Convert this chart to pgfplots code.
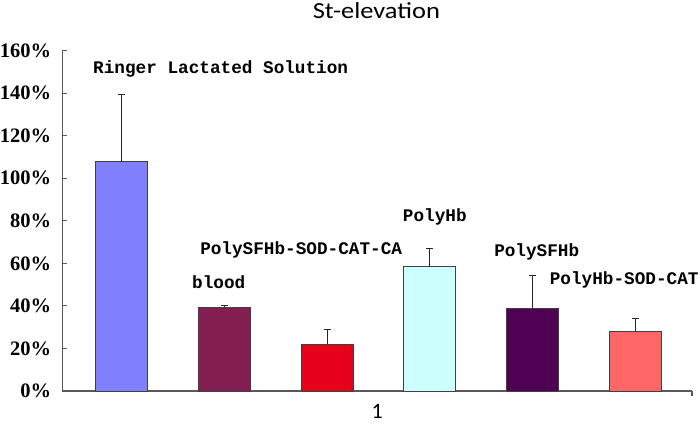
\documentclass[border=0pt]{standalone}
\usepackage{fontspec}
\usepackage{pgfplots}
\pgfplotsset{compat=1.18}
\newfontfamily\labfont{Liberation Mono}
\newfontfamily\tickfont{Liberation Serif}
\newfontfamily\titlefont[FakeStretch=1.15]{Carlito}
\newfontfamily\onefont{Carlito}
\definecolor{cRinger}{HTML}{8080FF}
\definecolor{cBlood}{HTML}{821F50}
\definecolor{cRed}{HTML}{E6001C}
\definecolor{cPolyHb}{HTML}{CCFFFF}
\definecolor{cPolySF}{HTML}{500050}
\definecolor{cSalmon}{HTML}{FF6666}
\begin{document}
\begin{tikzpicture}[x=1pt,y=1pt]
\useasboundingbox (0,0) rectangle (700,423);
\begin{axis}[
  at={(62.3pt,32pt)}, anchor=south west,
  scale only axis, width=629.7pt, height=340.3pt,
  xmin=-0.578, xmax=5.552, ymin=0, ymax=160,
  axis lines=left, axis line style={draw=black!65, line width=1.1pt, -},
  tick align=inside, major tick length=4.5pt,
  tick style={draw=black!65, line width=1.1pt},
  ytick={0,20,...,160},
  yticklabel={\tickfont\bfseries\pgfmathprintnumber[assume math mode=true]{\tick}\%},
  yticklabel style={font=\fontsize{20.5}{20.5}\selectfont, anchor=east, inner sep=0pt, xshift=-11pt},
  xtick={5.552}, xticklabels={},
  extra x ticks={2.487}, extra x tick labels={1},
  extra x tick style={major tick length=0pt, xticklabel style={font=\onefont\fontsize{22}{22}\selectfont, inner sep=0pt, anchor=center, yshift=-20pt}},
  ybar, bar width=0.506, bar shift=0pt,
  error bars/y dir=plus, error bars/y explicit,
  error bars/error bar style={draw=black!85, line width=0.9pt},
  error bars/error mark options={rotate=90, mark size=3.5pt, line width=0.9pt, draw=black!85},
  clip=false,
]
\addplot[fill=cRinger, draw=black!75, line width=0.9pt] coordinates {(0,107.8) +- (0,31.4)};
\addplot[fill=cBlood, draw=black!75, line width=0.9pt] coordinates {(1,39.5) +- (0,0.9)};
\addplot[fill=cRed, draw=black!75, line width=0.9pt] coordinates {(2,22.1) +- (0,6.9)};
\addplot[fill=cPolyHb, draw=black!75, line width=0.9pt] coordinates {(3,58.4) +- (0,8.5)};
\addplot[fill=cPolySF, draw=black!75, line width=0.9pt] coordinates {(4,38.9) +- (0,15.2)};
\addplot[fill=cSalmon, draw=black!75, line width=0.9pt] coordinates {(5,28.2) +- (0,5.8)};
\begin{scope}[every node/.style={anchor=base west, inner sep=0pt, font=\labfont\bfseries\fontsize{17.7}{17.7}\selectfont}]
\node at (axis cs:-0.279,149.4) {Ringer Lactated Solution};
\node at (axis cs:0.685,48.3) {blood};
\node at (axis cs:0.763,64.4) {PolySFHb-SOD-CAT-CA};
\node at (axis cs:2.736,79.6) {PolyHb};
\node at (axis cs:3.625,63.1) {PolySFHb};
\node at (axis cs:4.166,50.3) {PolyHb-SOD-CAT};
\end{scope}
\end{axis}
\node[anchor=base, inner sep=0pt, font=\titlefont\fontsize{23}{23}\selectfont] at (376.4,404) {St-elevation};
\end{tikzpicture}
\end{document}
